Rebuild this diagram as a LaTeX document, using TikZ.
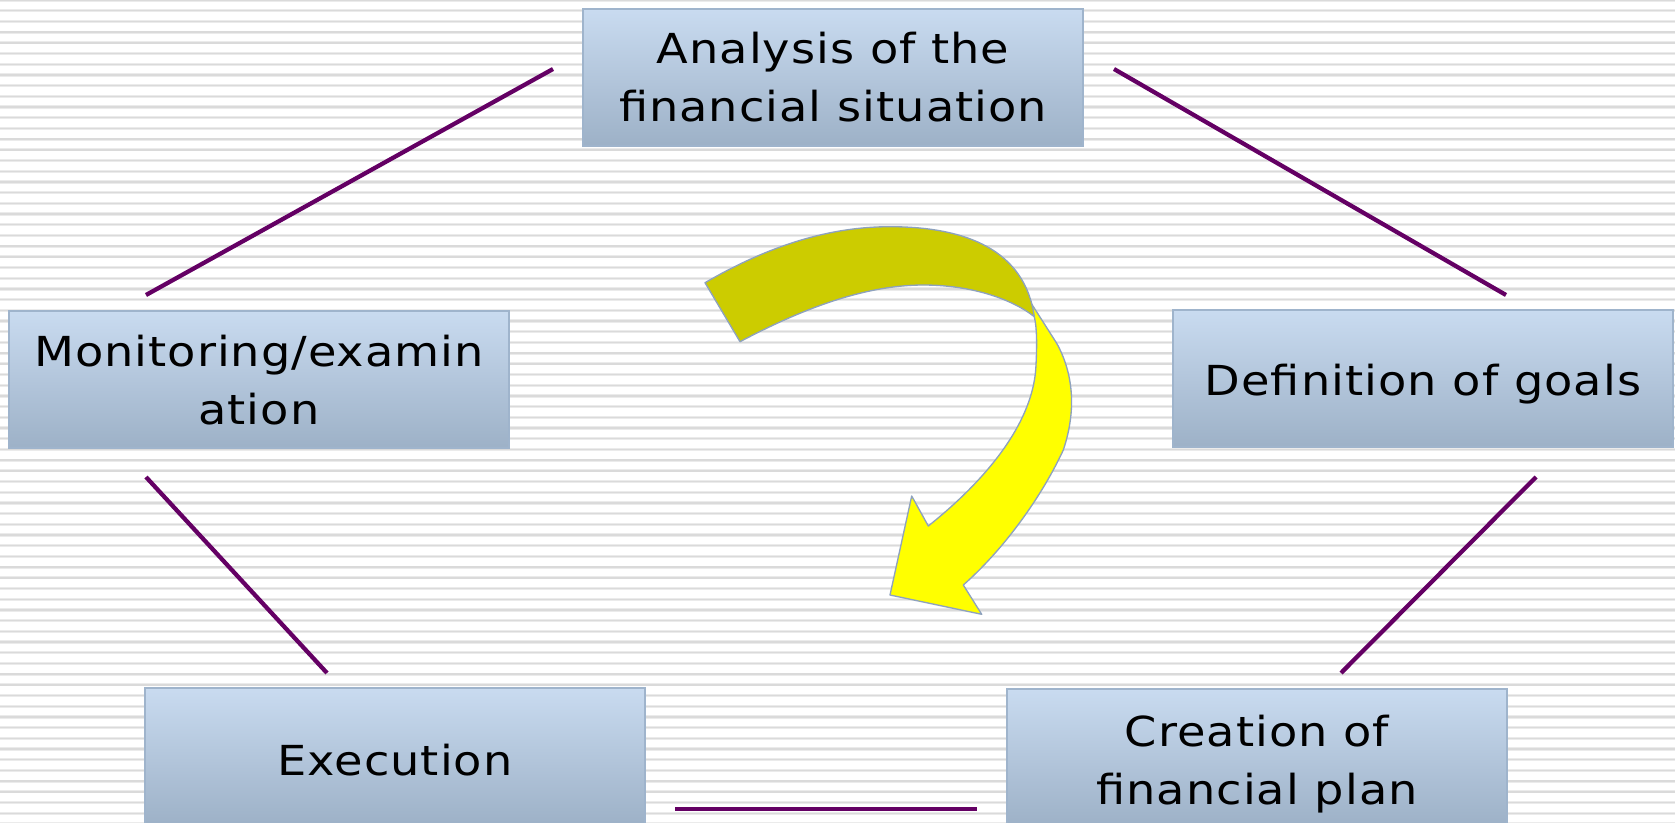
\documentclass[tikz,border=0pt]{standalone}
\usepackage{fontspec}
\setmainfont[FakeStretch=1.12,LetterSpace=2.4]{DejaVu Sans}
\definecolor{stripeA}{HTML}{EBEBEB}
\definecolor{stripeB}{HTML}{DADADA}
\definecolor{boxtop}{HTML}{C9DBF0}
\definecolor{boxbot}{HTML}{9DB1C7}
\definecolor{boxline}{HTML}{9FB4CC}
\definecolor{linkc}{HTML}{640064}
\definecolor{arrowdark}{HTML}{CCCC00}
\definecolor{arrowlight}{HTML}{FFFF00}
\definecolor{arrowline}{HTML}{8EA2BE}
\begin{document}
\begin{tikzpicture}[x=0.75pt,y=-0.75pt,
  box/.style={rectangle, minimum width=375pt, minimum height=102.75pt, inner sep=0pt,
    top color=boxtop, bottom color=boxbot, draw=boxline, line width=0.9pt},
  txt/.style={align=center, inner sep=0pt, font=\fontsize{31}{43.5}\selectfont},
  link/.style={draw=linkc, line width=3.2pt},
  arr/.style={draw=arrowline, line width=1pt, line join=round}]
\clip (0,0) rectangle (1675,822);
\fill[white] (0,0) rectangle (1675,822);
\foreach \i in {0,...,78} {
  \fill[stripeA] (0,{\i*10.7-1.6}) rectangle (1675,{\i*10.7+1.6});
  \fill[stripeB] (0,{\i*10.7-0.7}) rectangle (1675,{\i*10.7+0.7});
}
% boxes
\node[box] (ana) at (833,77.5) {};
\node[box] (mon) at (259,379.5) {};
\node[box] (def) at (1423,378.5) {};
\node[box] (exe) at (395,756.5) {};
\node[box] (cre) at (1257,757.5) {};
\node[txt] (ana-t) at (ana.center) {Analysis of the\\financial situation};
\node[txt] (mon-t) at ([yshift=-0.8pt]mon.center) {Monitoring/examin\\ation};
\node[txt] (def-t) at ([yshift=-4.5pt]def.center) {Definition of goals};
\node[txt] (exe-t) at ([yshift=-2.5pt]exe.center) {Execution};
\node[txt] (cre-t) at ([yshift=-5pt]cre.center) {Creation of\\financial plan};
% connectors
\coordinate (l1a) at (553,69);   \coordinate (l1b) at (146,295);
\coordinate (l2a) at (1114,69);  \coordinate (l2b) at (1506,295);
\coordinate (l3a) at (146,477);  \coordinate (l3b) at (327,673);
\coordinate (l4a) at (1536,477); \coordinate (l4b) at (1341,673);
\coordinate (l5a) at (675,809);  \coordinate (l5b) at (977,809);
\draw[link] (l1a) -- (l1b);
\draw[link] (l2a) -- (l2b);
\draw[link] (l3a) -- (l3b);
\draw[link] (l4a) -- (l4b);
\draw[link] (l5a) -- (l5b);
% curved arrow: yellow front part
\fill[arrowlight] (1024,292) -- (1056.7,343.3)
  .. controls (1073.3,373.3) and (1076.7,410) .. (1063.3,450)
  .. controls (1043.3,493.3) and (1006.7,546.7) .. (963.3,585)
  -- (981.7,614.3) -- (890,595) -- (911.7,496) -- (928.3,526)
  .. controls (990,476.7) and (1034,420) .. (1036,365)
  .. controls (1037,345) and (1037,328) .. (1034.3,316.7) -- cycle;
\draw[arr] (1024,292) -- (1056.7,343.3)
  .. controls (1073.3,373.3) and (1076.7,410) .. (1063.3,450)
  .. controls (1043.3,493.3) and (1006.7,546.7) .. (963.3,585)
  -- (981.7,614.3) -- (890,595) -- (911.7,496) -- (928.3,526)
  .. controls (990,476.7) and (1034,420) .. (1036,365)
  .. controls (1037,345) and (1037,328) .. (1034.3,316.7);
% curved arrow: dark back part
\filldraw[arr, fill=arrowdark] (705,282.7)
  .. controls (770,245) and (830,226.7) .. (890,226.7)
  .. controls (966,226.7) and (1025,250) .. (1034.3,316.7)
  .. controls (1013.3,300) and (973.3,285) .. (923.3,285)
  .. controls (863.3,285) and (800,310) .. (740,341.7) -- cycle;
\end{tikzpicture}
\end{document}
